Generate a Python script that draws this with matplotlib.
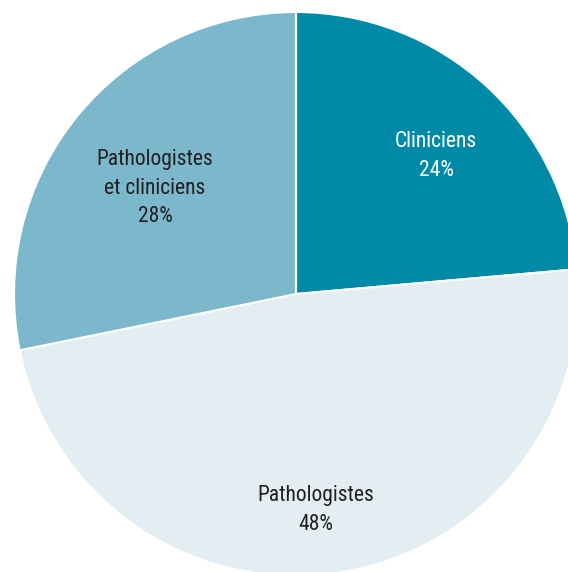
import matplotlib
matplotlib.use("Agg")
import matplotlib.pyplot as plt
from matplotlib import font_manager

categories = ["Cliniciens", "Pathologistes", "Pathologistes\net cliniciens"]
values = [23.6, 48.2, 28.2]
pct_labels = ["24%", "48%", "28%"]
colors = ["#008AA8", "#E2EEF2", "#7BB8CB"]
text_colors = ["white", "#231F20", "#231F20"]
label_pos = [(436, 156), (316, 510), (155, 188)]

names = {f.name for f in font_manager.fontManager.ttflist}
family = "Roboto Condensed" if "Roboto Condensed" in names else "DejaVu Sans"

W, H = 568, 572
fig = plt.figure(figsize=(W / 100, H / 100), dpi=100)
ax = fig.add_axes([0, 0, 1, 1])

cx, cy, r = 296, H - 294, 282
ax.pie(values, colors=colors, startangle=90, counterclock=False,
       center=(cx, cy), radius=r, frame=True,
       wedgeprops=dict(edgecolor="white", linewidth=1.5))
ax.set_xlim(0, W)
ax.set_ylim(0, H)
ax.set_aspect("equal")
ax.axis("off")

for cat, pct, tc, (x, y) in zip(categories, pct_labels, text_colors, label_pos):
    ax.text(x, H - y, cat + "\n" + pct, ha="center", va="center",
            color=tc, fontsize=15.5, family=family, linespacing=1.45)

fig.savefig("out.png", dpi=100)
